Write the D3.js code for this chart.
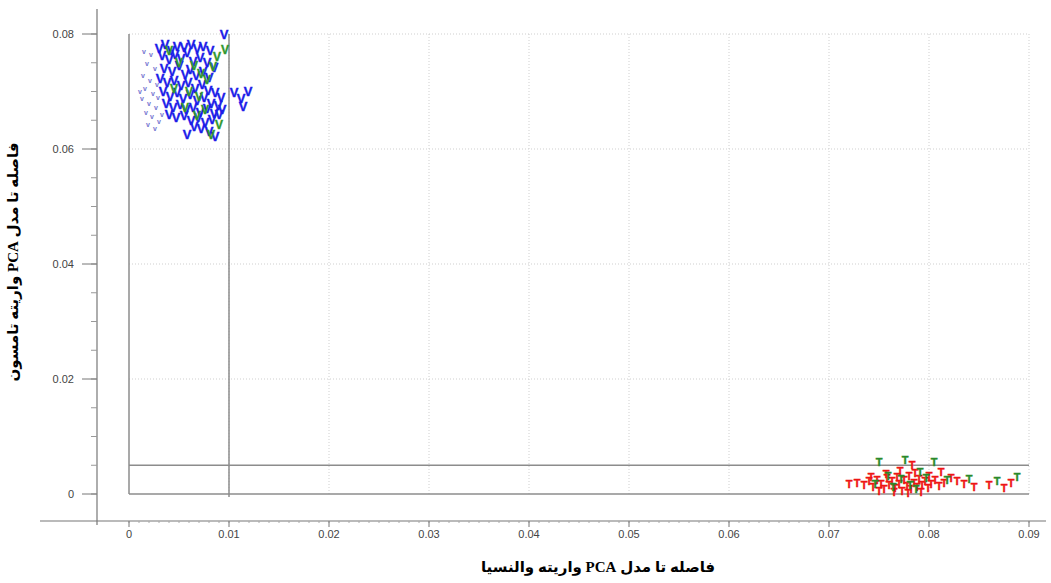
<!DOCTYPE html>
<html>
<head>
<meta charset="utf-8">
<script src="https://cdn.jsdelivr.net/npm/d3@7"></script>
<style>
  body { margin: 0; background: #fff; }
  .tick-label { font-family: "Liberation Sans", Arial, sans-serif; font-size: 11px; fill: #444; }
  .axis-title { font-family: "Liberation Serif", "DejaVu Sans", serif; font-size: 15px; font-weight: bold; fill: #000; }
  .mark { font-family: "Liberation Sans", Arial, sans-serif; font-weight: bold; }
</style>
</head>
<body>
<svg id="chart" width="1051" height="583"></svg>
<script>
// tick labels
const xTicks = [0, 0.01, 0.02, 0.03, 0.04, 0.05, 0.06, 0.07, 0.08, 0.09];
const yTicks = [0, 0.02, 0.04, 0.06, 0.08];

// critical limits
const limitX = [0.01];
const limitY = [0.005];

// Valencia-class samples (blue "V")
const blueV = [
  [0.0030,0.0775],[0.0036,0.0782],[0.0042,0.0772],[0.0048,0.0779],[0.0055,0.0776],[0.0062,0.0781],[0.0068,0.0774],[0.0074,0.0778],[0.0081,0.0772],[0.0095,0.0800],
  [0.0033,0.0762],[0.0040,0.0755],[0.0046,0.0765],[0.0052,0.0758],[0.0058,0.0768],[0.0064,0.0752],[0.0071,0.0760],[0.0078,0.0750],[0.0085,0.0742],
  [0.0035,0.0740],[0.0043,0.0735],[0.0050,0.0745],[0.0056,0.0730],[0.0061,0.0738],[0.0067,0.0728],[0.0074,0.0735],[0.0080,0.0725],
  [0.0031,0.0722],[0.0038,0.0715],[0.0045,0.0720],[0.0052,0.0710],[0.0059,0.0716],[0.0066,0.0705],[0.0073,0.0712],[0.0079,0.0702],[0.0086,0.0698],[0.0092,0.0690],[0.0105,0.0698],[0.0112,0.0688],[0.0119,0.0700],
  [0.0034,0.0700],[0.0041,0.0692],[0.0048,0.0698],[0.0054,0.0688],[0.0061,0.0694],[0.0068,0.0684],[0.0075,0.0690],[0.0082,0.0680],[0.0089,0.0676],[0.0114,0.0674],
  [0.0037,0.0680],[0.0044,0.0672],[0.0051,0.0678],[0.0057,0.0668],[0.0064,0.0673],[0.0071,0.0664],[0.0078,0.0670],[0.0085,0.0662],[0.0093,0.0668],
  [0.0040,0.0660],[0.0047,0.0654],[0.0055,0.0658],[0.0062,0.0650],[0.0069,0.0655],[0.0076,0.0646],[0.0083,0.0652],[0.0090,0.0660],
  [0.0072,0.0636],[0.0080,0.0630],[0.0065,0.0640],[0.0058,0.0626],[0.0086,0.0622]
];
// Valencia samples drawn in green
const greenV = [
  [0.0040,0.0770],[0.0050,0.0750],[0.0065,0.0745],[0.0072,0.0730],[0.0078,0.0720],[0.0084,0.0742],[0.0088,0.0760],[0.0060,0.0700],
  [0.0070,0.0690],[0.0056,0.0672],[0.0068,0.0658],[0.0076,0.0668],[0.0090,0.0642],[0.0096,0.0772],[0.0082,0.0625],[0.0045,0.0705]
];
// faint small marks at the left of the blue group
const smallV = [
  [0.0015,0.0770],[0.0022,0.0765],[0.0018,0.0748],[0.0026,0.0740],[0.0014,0.0728],[0.0021,0.0720],[0.0028,0.0712],[0.0016,0.0705],
  [0.0024,0.0696],[0.0013,0.0688],[0.0020,0.0680],[0.0027,0.0672],[0.0017,0.0664],[0.0023,0.0656],[0.0030,0.0648],[0.0019,0.0642],
  [0.0026,0.0636],[0.0011,0.0700],[0.0033,0.0660],[0.0029,0.0690]
];
// Thomson-class samples (red "T")
const redT = [
  [0.0720,0.0018],[0.0728,0.0020],[0.0735,0.0015],[0.0740,0.0022],[0.0744,0.0012],[0.0748,0.0025],[0.0752,0.0018],[0.0755,0.0008],
  [0.0758,0.0028],[0.0760,0.0015],[0.0763,0.0022],[0.0766,0.0010],[0.0768,0.0030],[0.0770,0.0018],[0.0773,0.0005],[0.0775,0.0024],
  [0.0778,0.0014],[0.0780,0.0032],[0.0782,0.0008],[0.0785,0.0020],[0.0788,0.0012],[0.0790,0.0026],[0.0793,0.0016],[0.0796,0.0022],
  [0.0799,0.0010],[0.0802,0.0018],[0.0806,0.0025],[0.0810,0.0014],[0.0815,0.0020],[0.0822,0.0028],[0.0828,0.0022],[0.0835,0.0018],
  [0.0845,0.0012],[0.0860,0.0015],[0.0875,0.0010],[0.0882,0.0020],[0.0742,0.0030],[0.0757,0.0035],[0.0771,0.0040],[0.0786,0.0036],
  [0.0800,0.0032],[0.0765,0.0003],[0.0779,0.0002],[0.0792,0.0004],[0.0750,0.0005],[0.0812,0.0038],[0.0783,0.0050]
];
// Thomson samples drawn in green
const greenT = [
  [0.0746,0.0017],[0.0759,0.0032],[0.0764,0.0012],[0.0772,0.0026],[0.0776,0.0060],[0.0781,0.0016],[0.0787,0.0008],[0.0791,0.0038],
  [0.0797,0.0028],[0.0805,0.0055],[0.0818,0.0024],[0.0840,0.0026],[0.0868,0.0022],[0.0888,0.0030],[0.0750,0.0056]
];

const svg = d3.select("#chart");

const x = d3.scaleLinear().domain([0, 0.09]).range([129, 1029]);
const y = d3.scaleLinear().domain([0, 0.08]).range([494, 34]);

const axisY = 521;  // bottom axis line
const axisX = 97;   // left axis line

// dotted grid
svg.append("g").selectAll("line")
  .data(xTicks.slice(1))
  .join("line")
  .attr("x1", d => x(d)).attr("x2", d => x(d))
  .attr("y1", y(0.08)).attr("y2", y(0))
  .attr("stroke", "#cfcfcf").attr("stroke-dasharray", "1,2");

svg.append("g").selectAll("line")
  .data(yTicks.slice(1))
  .join("line")
  .attr("x1", x(0)).attr("x2", x(0.09))
  .attr("y1", d => y(d)).attr("y2", d => y(d))
  .attr("stroke", "#cfcfcf").attr("stroke-dasharray", "1,2");

// box and limit lines
const limits = svg.append("g").attr("stroke", "#8c8c8c").attr("stroke-width", 1.5).attr("fill", "none");
limits.append("line").attr("x1", x(0)).attr("x2", x(0)).attr("y1", y(0.08)).attr("y2", y(0));
limits.append("line").attr("x1", x(0)).attr("x2", x(0.09)).attr("y1", y(0)).attr("y2", y(0));
limits.selectAll(".lx").data(limitX).join("line")
  .attr("x1", d => x(d)).attr("x2", d => x(d)).attr("y1", y(0.08)).attr("y2", y(0) + 3);
limits.selectAll(".ly").data(limitY).join("line")
  .attr("x1", x(0)).attr("x2", x(0.09)).attr("y1", d => y(d)).attr("y2", d => y(d));

// axes lines
svg.append("line").attr("x1", 40).attr("x2", 1046).attr("y1", axisY).attr("y2", axisY)
  .attr("stroke", "#777").attr("stroke-width", 1.2);
svg.append("line").attr("x1", axisX).attr("x2", axisX).attr("y1", 9).attr("y2", axisY + 4)
  .attr("stroke", "#777").attr("stroke-width", 1.2);

// x ticks
const xMinor = d3.range(0, 91).map(i => i / 1000);
svg.append("g").selectAll("line").data(xMinor).join("line")
  .attr("x1", d => x(d)).attr("x2", d => x(d))
  .attr("y1", axisY).attr("y2", axisY + 2)
  .attr("stroke", "#aaa");
svg.append("g").selectAll("line").data(xTicks).join("line")
  .attr("x1", d => x(d)).attr("x2", d => x(d))
  .attr("y1", axisY).attr("y2", axisY + 6)
  .attr("stroke", "#777");
svg.append("g").selectAll("text").data(xTicks).join("text")
  .attr("class", "tick-label")
  .attr("x", d => x(d)).attr("y", axisY + 17)
  .attr("text-anchor", "middle")
  .text(d => d3.format("")(+d.toFixed(2)));

// y ticks
const yMinor = d3.range(0, 17).map(i => i * 0.005);
svg.append("g").selectAll("line").data(yMinor).join("line")
  .attr("x1", axisX - 6).attr("x2", axisX)
  .attr("y1", d => y(d)).attr("y2", d => y(d))
  .attr("stroke", "#999");
svg.append("g").selectAll("line").data(yTicks).join("line")
  .attr("x1", axisX - 15).attr("x2", axisX)
  .attr("y1", d => y(d)).attr("y2", d => y(d))
  .attr("stroke", "#777");
svg.append("g").selectAll("text").data(yTicks).join("text")
  .attr("class", "tick-label")
  .attr("x", 74).attr("y", d => y(d) + 4)
  .attr("text-anchor", "end")
  .text(d => d3.format("")(+d.toFixed(2)));

// sample labels
function drawMarks(data, label, color, size, outline) {
  svg.append("g").selectAll("text").data(data).join("text")
    .attr("class", "mark")
    .attr("x", d => x(d[0])).attr("y", d => y(d[1]))
    .attr("text-anchor", "middle")
    .attr("dominant-baseline", "central")
    .attr("font-size", size)
    .attr("fill", color)
    .attr("stroke", color)
    .attr("stroke-width", outline)
    .text(label);
}
drawMarks(smallV, "v", "#7474d0", 7, 0);
drawMarks(blueV, "V", "#1c1ce8", 13, 0.4);
drawMarks(greenV, "V", "#2f982f", 12, 0.4);
drawMarks(redT, "T", "#ee1414", 11, 0.4);
drawMarks(greenT, "T", "#2a8a2a", 11, 0.4);

// axis titles
svg.append("text").attr("class", "axis-title")
  .attr("x", 598).attr("y", 572)
  .attr("text-anchor", "middle")
  .attr("direction", "rtl")
  .text("فاصله تا مدل PCA واریته والنسیا");

svg.append("text").attr("class", "axis-title")
  .attr("transform", "translate(18,262) rotate(-90)")
  .attr("text-anchor", "middle")
  .attr("direction", "rtl")
  .text("فاصله تا مدل PCA واریته تامسون");
</script>
</body>
</html>
